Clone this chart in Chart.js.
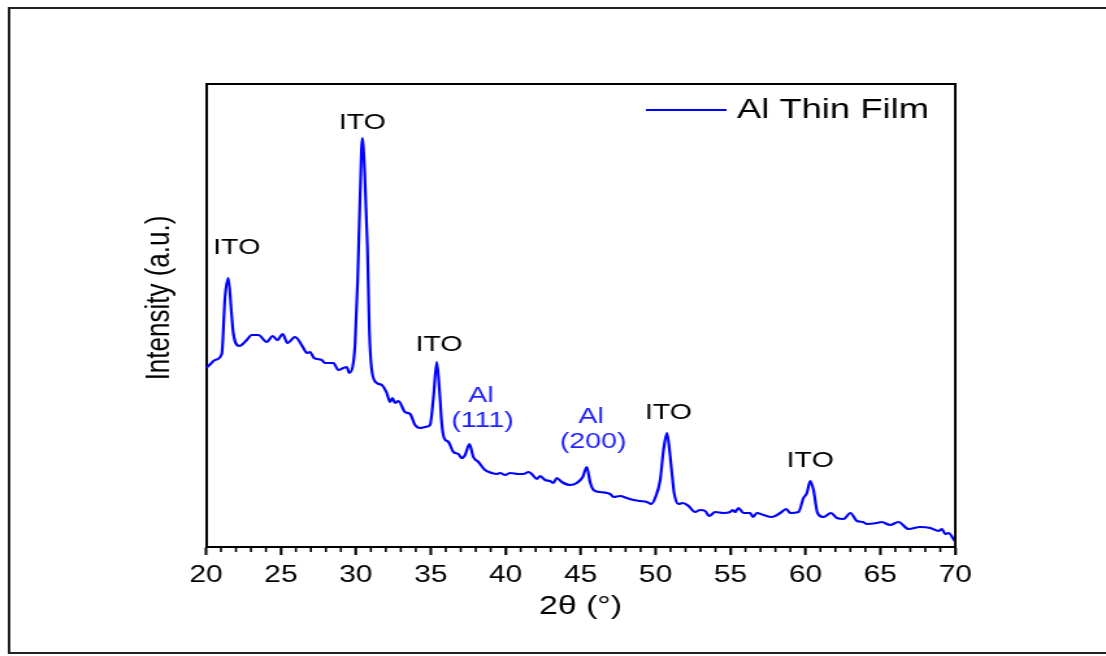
<!DOCTYPE html>
<html>
<head>
<meta charset="utf-8">
<title>XRD - Al Thin Film</title>
<script src="https://cdn.jsdelivr.net/npm/chart.js@4"></script>
<style>
  html, body { margin: 0; padding: 0; background: #fff; overflow: hidden; }
  #xrd { display: block; }
</style>
</head>
<body>
<!-- the reference figure is stretched sideways, so the canvas is drawn narrow and widened by css -->
<canvas id="xrd" width="851" height="656" style="width:1106px;height:656px"></canvas>
<script>
// 2θ (deg) and intensity (a.u.)
const twoTheta = [
  20.00, 20.30, 20.60, 21.05, 21.27, 21.49, 21.70, 21.82, 22.22, 22.72,
  23.05, 23.50, 24.05, 24.45, 24.76, 25.12, 25.43, 25.94, 26.50, 26.72,
  26.94, 27.21, 27.72, 27.94, 28.50, 28.83, 29.17, 29.39, 29.57, 29.83,
  29.95, 30.12, 30.28, 30.43, 30.59, 30.77, 30.90, 31.06, 31.40, 31.73,
  32.06, 32.28, 32.44, 32.62, 32.84, 33.28, 33.62, 33.95, 34.29, 34.62,
  34.95, 35.18, 35.40, 35.58, 35.73, 35.89, 36.18, 36.51, 36.84, 37.07,
  37.29, 37.58, 37.84, 38.18, 38.62, 39.07, 39.40, 39.63, 39.96, 40.30,
  40.85, 41.18, 41.52, 41.74, 42.08, 42.30, 42.63, 42.96, 43.18, 43.41,
  43.74, 44.30, 44.74, 45.14, 45.41, 45.63, 45.86, 46.30, 46.97, 47.19,
  47.64, 48.08, 48.53, 48.97, 49.42, 49.71, 49.97, 50.31, 50.53, 50.76,
  50.93, 51.09, 51.24, 51.53, 51.82, 52.20, 52.64, 52.97, 53.31, 53.58,
  53.98, 54.53, 54.98, 55.13, 55.31, 55.53, 55.87, 56.32, 56.49, 56.76,
  57.20, 57.76, 58.32, 58.72, 58.99, 59.54, 59.87, 60.10, 60.32, 60.54,
  60.81, 61.21, 61.70, 62.10, 62.55, 63.00, 63.44, 63.84, 64.10, 64.77,
  65.09, 65.65, 66.21, 66.88, 67.66, 68.33, 68.89, 69.11, 69.33, 69.55,
  69.93, 70.00
];
const intensity = [
  179, 183, 187, 193, 250, 269, 234, 214, 201, 207,
  212, 212, 205, 211, 207, 213, 204, 210, 199, 194,
  195, 189, 187, 184, 184, 177, 179, 180, 174, 184,
  204, 267, 350, 409, 374, 300, 217, 177, 164, 162,
  154, 145, 149, 144, 146, 135, 133, 122, 119, 120,
  122, 150, 185, 157, 124, 109, 105, 95, 93, 89,
  92, 103, 90, 85, 77, 74, 73, 74, 72, 74,
  73, 73, 75, 73, 68, 71, 67, 66, 64, 69,
  65, 62, 64, 70, 80, 65, 57, 55, 53, 50,
  51, 49, 47, 46, 45, 43, 49, 67, 97, 114,
  97, 74, 54, 43, 44, 41, 35, 37, 36, 31,
  35, 34, 35, 37, 35, 39, 34, 34, 30, 34,
  32, 30, 34, 38, 34, 35, 49, 54, 66, 57,
  34, 30, 34, 29, 28, 34, 26, 25, 23, 24,
  25, 22, 25, 18, 20, 19, 16, 18, 13, 14,
  7, 6
];

// peak labels: text, position in data units, colour
const peakText  = ["ITO", "ITO", "ITO", "Al", "(111)", "Al", "(200)", "ITO", "ITO"];
const peakX     = [22.05, 30.43, 35.55, 38.35, 38.45, 45.70, 45.83, 50.86, 60.32];
const peakY     = [299, 424, 202, 151, 126, 130, 105, 134, 86];
const peakColor = ["#000", "#000", "#000", "#1f1fff", "#1f1fff", "#1f1fff", "#1f1fff", "#000", "#000"];

const FONT = "'Liberation Sans', Arial, sans-serif";

const extras = {
  id: "extras",
  beforeDraw(chart) {
    // outer figure frame (its right side is cut off)
    const ctx = chart.ctx;
    ctx.save();
    ctx.strokeStyle = "#222";
    ctx.lineWidth = 2;
    ctx.beginPath();
    ctx.moveTo(chart.width + 5, 8);
    ctx.lineTo(7, 8);
    ctx.lineTo(7, 653);
    ctx.lineTo(chart.width + 5, 653);
    ctx.stroke();
    ctx.restore();
  },
  afterDraw(chart) {
    const { ctx, chartArea: a, scales } = chart;
    const sx = scales.x;
    ctx.save();

    // top and right side of the plot box
    ctx.strokeStyle = "#000";
    ctx.lineWidth = 2;
    ctx.beginPath();
    ctx.moveTo(a.left, a.top);
    ctx.lineTo(a.right, a.top);
    ctx.lineTo(a.right, a.bottom);
    ctx.stroke();

    // tick marks under the x axis: long every 5°, short every 1°
    ctx.lineWidth = 1.6;
    ctx.beginPath();
    for (let v = sx.min; v <= sx.max; v++) {
      const px = sx.getPixelForValue(v);
      ctx.moveTo(px, a.bottom);
      ctx.lineTo(px, a.bottom + (v % 5 === 0 ? 8 : 5));
    }
    ctx.stroke();

    // peak labels
    ctx.font = "22px " + FONT;
    ctx.textAlign = "center";
    ctx.textBaseline = "middle";
    peakText.forEach((t, i) => {
      ctx.fillStyle = peakColor[i];
      ctx.fillText(t, sx.getPixelForValue(peakX[i]), scales.y.getPixelForValue(peakY[i]));
    });

    // legend inside the plot
    const ds = chart.data.datasets[0];
    const ly = a.top + 26;
    ctx.strokeStyle = ds.borderColor;
    ctx.lineWidth = 2;
    ctx.beginPath();
    ctx.moveTo(a.right - 238, ly);
    ctx.lineTo(a.right - 176, ly);
    ctx.stroke();
    ctx.fillStyle = "#000";
    ctx.font = "28px " + FONT;
    ctx.textAlign = "left";
    ctx.fillText(ds.label, a.right - 168, ly);

    // y axis title
    ctx.translate(123, 298);
    ctx.rotate(-Math.PI / 2);
    ctx.font = "26px " + FONT;
    ctx.textAlign = "center";
    ctx.fillText("Intensity (a.u.)", 0, 0);

    ctx.restore();
  }
};

new Chart(document.getElementById("xrd"), {
  type: "line",
  data: {
    datasets: [{
      label: "Al Thin Film",
      data: twoTheta.map((t, i) => ({ x: t, y: intensity[i] })),
      borderColor: "#0000ff",
      borderWidth: 2.2,
      pointRadius: 0,
      fill: false,
      cubicInterpolationMode: "monotone",
      tension: 0.3
    }]
  },
  options: {
    responsive: false,
    devicePixelRatio: 1,
    animation: false,
    layout: { padding: { top: 84, right: 116, left: 0, bottom: 0 } },
    plugins: { legend: { display: false }, tooltip: { enabled: false } },
    scales: {
      x: {
        type: "linear", position: "bottom", min: 20, max: 70,
        ticks: { stepSize: 5, color: "#000", font: { family: FONT, size: 23 }, padding: 7, maxRotation: 0, autoSkip: false },
        grid: { drawOnChartArea: false, tickLength: 8, tickWidth: 1.6, tickColor: "#000" },
        border: { color: "#000", width: 2 },
        title: { display: true, text: "2θ (°)", color: "#000", font: { family: FONT, size: 26 }, padding: { top: 0, bottom: 34 } },
        afterFit(s) { s.height = 109; }
      },
      y: {
        min: 0, max: 463,
        ticks: { display: false },
        grid: { display: false },
        border: { color: "#000", width: 2 },
        afterFit(s) { s.width = 158.5; }
      }
    }
  },
  plugins: [extras]
});
</script>
</body>
</html>
